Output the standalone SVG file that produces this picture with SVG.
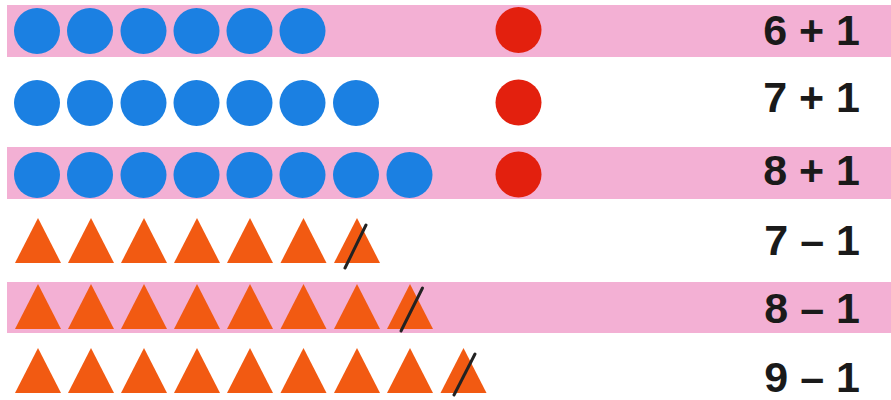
<svg xmlns="http://www.w3.org/2000/svg" width="891" height="400" viewBox="0 0 891 400">
<defs>
<style>
.band{fill:#f3b0d4}
.blue{fill:#1b80e2}
.red{fill:#e3200e}
.tri{fill:#f25a12}
.cut{stroke:#222;stroke-width:3;stroke-linecap:round}
.lbl{font-family:"Liberation Sans",Arial,sans-serif;font-weight:bold;font-size:43px;fill:#1a1a1a;text-anchor:end}
</style>
<circle id="c" r="23"/>
<polygon id="t" points="0,-45 23,0 -23,0"/>
</defs>
<rect width="891" height="400" fill="#ffffff"/>
<rect class="band" x="7" y="5" width="884" height="52"/>
<rect class="band" x="7" y="147" width="884" height="52"/>
<rect class="band" x="7" y="282" width="884" height="51"/>

<g id="row1">
<g class="blue">
<use href="#c" x="37" y="31"/><use href="#c" x="90" y="31"/><use href="#c" x="143.5" y="31"/><use href="#c" x="196.5" y="31"/><use href="#c" x="249.5" y="31"/><use href="#c" x="302.5" y="31"/>
</g>
<use class="red" href="#c" x="518.5" y="30"/>
<text class="lbl" x="860" y="45">6 + 1</text>
</g>

<g id="row2">
<g class="blue">
<use href="#c" x="37" y="103"/><use href="#c" x="90" y="103"/><use href="#c" x="143.5" y="103"/><use href="#c" x="196.5" y="103"/><use href="#c" x="249.5" y="103"/><use href="#c" x="302.5" y="103"/><use href="#c" x="356" y="103"/>
</g>
<use class="red" href="#c" x="518.5" y="102.5"/>
<text class="lbl" x="860" y="112">7 + 1</text>
</g>

<g id="row3">
<g class="blue">
<use href="#c" x="37" y="175"/><use href="#c" x="90" y="175"/><use href="#c" x="143.5" y="175"/><use href="#c" x="196.5" y="175"/><use href="#c" x="249.5" y="175"/><use href="#c" x="302.5" y="175"/><use href="#c" x="356" y="175"/><use href="#c" x="409.5" y="175"/>
</g>
<use class="red" href="#c" x="518.5" y="174.5"/>
<text class="lbl" x="860" y="185">8 + 1</text>
</g>

<g id="row4">
<g class="tri">
<use href="#t" x="38" y="263"/><use href="#t" x="91" y="263"/><use href="#t" x="144" y="263"/><use href="#t" x="197" y="263"/><use href="#t" x="250" y="263"/><use href="#t" x="303.5" y="263"/><use href="#t" x="357" y="263"/>
</g>
<line class="cut" x1="345" y1="268" x2="366" y2="225"/>
<text class="lbl" x="860" y="255">7 – 1</text>
</g>

<g id="row5">
<g class="tri">
<use href="#t" x="38" y="329"/><use href="#t" x="91" y="329"/><use href="#t" x="144" y="329"/><use href="#t" x="197" y="329"/><use href="#t" x="250" y="329"/><use href="#t" x="303.5" y="329"/><use href="#t" x="357" y="329"/><use href="#t" x="410" y="329"/>
</g>
<line class="cut" x1="401" y1="331" x2="422.5" y2="288"/>
<text class="lbl" x="860" y="323">8 – 1</text>
</g>

<g id="row6">
<g class="tri">
<use href="#t" x="38" y="393"/><use href="#t" x="91" y="393"/><use href="#t" x="144" y="393"/><use href="#t" x="197" y="393"/><use href="#t" x="250" y="393"/><use href="#t" x="303.5" y="393"/><use href="#t" x="357" y="393"/><use href="#t" x="410" y="393"/><use href="#t" x="463.5" y="393"/>
</g>
<line class="cut" x1="454" y1="395" x2="475" y2="354"/>
<text class="lbl" x="860" y="392">9 – 1</text>
</g>
<g id="connectors"/>
</svg>
